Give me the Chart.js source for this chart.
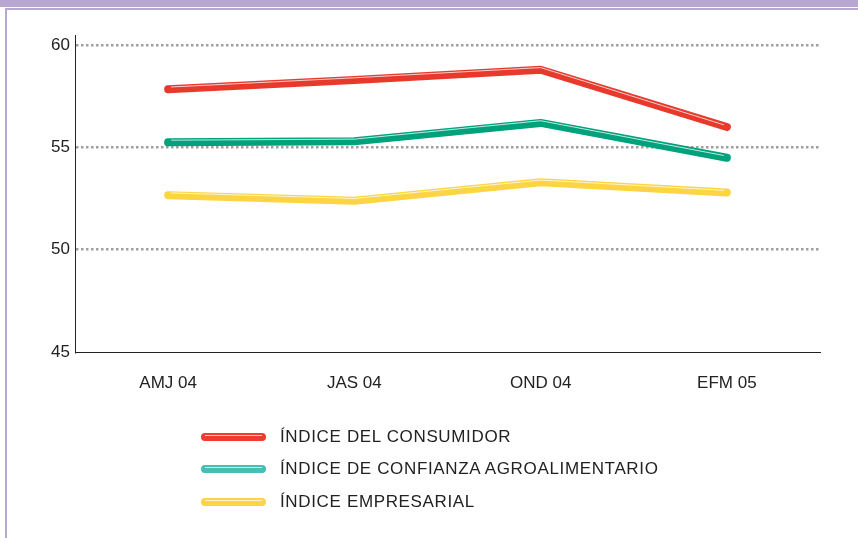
<!DOCTYPE html>
<html>
<head>
<meta charset="utf-8">
<script src="https://cdn.jsdelivr.net/npm/chart.js@4"></script>
<style>
  html, body { margin: 0; padding: 0; background: #fff; }
  #wrap { position: relative; width: 858px; height: 538px; overflow: hidden; }
  #bandTop { position: absolute; left: 0; top: 0; width: 858px; height: 7px; background: #b9a7d3; }
  #lineTop { position: absolute; left: 5px; top: 8px; width: 853px; height: 2px; background: #b9a7d3; }
  #lineLeft { position: absolute; left: 5px; top: 8px; width: 2px; height: 530px; background: #b9a7d3; }
  canvas { position: absolute; left: 0; top: 0; }
  .leg { position: absolute; left: 201px; font-family: "Liberation Sans", Arial, sans-serif; font-size: 17px; letter-spacing: 0.65px; color: #222; }
  .leg .sw { position: absolute; left: 0; top: 0; width: 65px; height: 8px; border-radius: 4px; }
  .leg .sw::after { content: ""; position: absolute; left: 4px; right: 4px; top: 2px; height: 1px; background: rgba(255,255,255,0.75); }
  .leg span { position: absolute; left: 79px; top: -6px; line-height: 20px; white-space: nowrap; }
</style>
</head>
<body>
<div id="wrap">
  <div id="bandTop"></div>
  <div id="lineTop"></div>
  <div id="lineLeft"></div>
  <canvas id="graph" width="858" height="538"></canvas>
  <div id="legend"></div>
</div>
<script>
// periodos
const periodos = ['AMJ 04', 'JAS 04', 'OND 04', 'EFM 05'];
// series
const consumidor = [57.85, 58.3, 58.8, 56.0];
const agroalimentario = [55.25, 55.3, 56.2, 54.5];
const empresarial = [52.67, 52.4, 53.3, 52.8];
const ticksY = [45, 50, 55, 60];
const nombres = ['ÍNDICE DEL CONSUMIDOR', 'ÍNDICE DE CONFIANZA AGROALIMENTARIO', 'ÍNDICE EMPRESARIAL'];

const rojo = '#e8392d';
const verde = '#00a27c';
const amarillo = '#fdd443';
const coloresLeyenda = ['#ec3d30', '#45bfb4', '#fdd443'];

function serie(label, data, color) {
    return {
        label: label,
        data: data,
        borderColor: color,
        backgroundColor: color,
        borderWidth: 8,
        borderCapStyle: 'round',
        borderJoinStyle: 'round',
        pointRadius: 0,
        fill: false,
        tension: 0
    };
}

// brillo blanco encima de cada linea
const brillo = {
    id: 'brillo',
    afterDatasetsDraw(chart) {
        const ctx = chart.ctx;
        chart.data.datasets.forEach((ds, i) => {
            const pts = chart.getDatasetMeta(i).data;
            ctx.save();
            ctx.strokeStyle = 'rgba(255,255,255,0.75)';
            ctx.lineWidth = 1;
            ctx.lineJoin = 'round';
            ctx.beginPath();
            pts.forEach((p, k) => {
                const x = p.x + (k === 0 ? 3 : 0) - (k === pts.length - 1 ? 3 : 0);
                if (k === 0) ctx.moveTo(x, p.y - 2.2); else ctx.lineTo(x, p.y - 2.2);
            });
            ctx.stroke();
            ctx.restore();
        });
    }
};

const graph = document.querySelector('#graph');
new Chart(graph, {
    type: 'line',
    data: {
        labels: periodos,
        datasets: [
            serie(nombres[2], empresarial, amarillo),
            serie(nombres[1], agroalimentario, verde),
            serie(nombres[0], consumidor, rojo)
        ]
    },
    options: {
        responsive: false,
        animation: false,
        layout: { padding: { top: 35, right: 38, left: 0, bottom: 0 } },
        plugins: { legend: { display: false }, tooltip: { enabled: false } },
        scales: {
            x: {
                offset: true,
                grid: { display: false, drawTicks: false },
                border: { display: true, color: '#222', width: 1 },
                ticks: { color: '#222', padding: 21, font: { family: 'Liberation Sans', size: 17 } },
                afterFit(scale) { scale.height = 186; }
            },
            y: {
                min: 45,
                max: 60.5,
                afterBuildTicks(scale) { scale.ticks = ticksY.map(v => ({ value: v })); },
                grid: {
                    drawTicks: false,
                    color: (c) => c.tick && c.tick.value === 45 ? 'rgba(0,0,0,0)' : '#a39e9e',
                    lineWidth: 2.5
                },
                border: { display: true, color: '#222', width: 1, dash: [2.5, 2.5] },
                ticks: { color: '#222', padding: 5, font: { family: 'Liberation Sans', size: 17 } },
                afterFit(scale) { scale.width = 75; }
            }
        }
    },
    plugins: [brillo]
});

// leyenda
const legend = document.getElementById('legend');
const posY = [433, 465, 498];
nombres.forEach((n, i) => {
    const d = document.createElement('div');
    d.className = 'leg';
    d.style.top = posY[i] + 'px';
    d.innerHTML = '<div class="sw" style="background:' + coloresLeyenda[i] + '"></div><span>' + n + '</span>';
    legend.appendChild(d);
});
</script>
</body>
</html>
